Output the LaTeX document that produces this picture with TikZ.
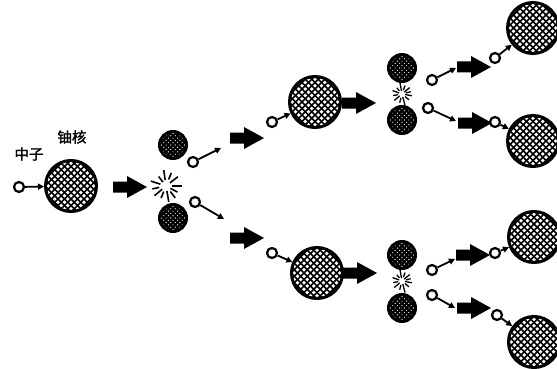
\documentclass[tikz,border=0pt]{standalone}
\usepackage{fontspec}
\newfontfamily\cjk{Noto Sans CJK SC}[FakeBold=1.5]
\usetikzlibrary{arrows.meta}
\begin{document}
\begin{tikzpicture}[x=1pt,y=-1pt,
  % cross-hatched nucleus: #1 = grid pitch, #2 = bar width
  hatched/.style 2 args={circle, draw, fill=white, inner sep=0pt,
    path picture={
      \foreach \k in {-12,...,12}{
        \draw[line width=#2, shift={(path picture bounding box.center)}]
          (\k*#1-40,-40) -- ++(80,80)
          (\k*#1+40,-40) -- ++(-80,80);
      }}},
  nucleus/.style={hatched={6.5}{1.55pt}, minimum size=51pt, line width=3pt},
  fragment/.style={hatched={4.6}{2.1pt}, minimum size=27pt, line width=3pt},
  neutron/.style={circle, draw, fill=white, line width=2.2pt, minimum size=10pt, inner sep=0pt},
  stem/.style={line width=1.8pt, -{Triangle[length=6pt,width=6pt]}},
  label/.style={font=\cjk\fontsize{14.5}{14.5}\selectfont, inner sep=0pt},
  bigarrow/.pic={
    \fill (-17,-5.5) -- (-3,-5.5) -- (-3,-11) -- (17,0) -- (-3,11) -- (-3,5.5) -- (-17,5.5) -- cycle;
  },
  burst/.pic={
    \foreach \a/\r/\R in {0/6/16, 28/5/13, 52/7/15, 80/5/16, 112/6/13, 140/5/15,
                          168/7/14, 198/6/16, 232/5/12, 262/6/16, 292/7/14, 322/5/15}
      \draw[line width=1.6pt] (\a:\r) -- (\a:\R);
  },
  smallburst/.pic={
    \foreach \a/\r/\R in {10/3/10, 40/4/9, 75/3/12, 105/4/9, 140/3/10, 170/4/9,
                          200/3/10, 230/4/8, 260/3/12, 290/4/9, 320/3/10, 345/4/9}
      \draw[line width=1.3pt] (\a:\r) -- (\a:\R);
  }]
\useasboundingbox[fill=white] (0,0) rectangle (557,369);

% first fission: neutron hits a uranium nucleus
\node[nucleus] (u0) at (71,186) {};
\node[neutron] (n0) at (19,187) {};
\draw[stem] (n0) -- (u0);
\node[label] (lblN) at (29,154) {中子};
\node[label] (lblU) at (72,137) {铀核};

\pic at (130,187) {bigarrow};
\pic at (166,186) {burst};
\node[fragment] (f1) at (173,145) {};
\node[fragment] (f2) at (173,218) {};
\node[neutron] (e1) at (193,162) {};
\coordinate (t1) at (221,148);
\draw[stem] (e1) -- (t1);
\node[neutron] (e2) at (195,202) {};
\coordinate (t2) at (224,219);
\draw[stem] (e2) -- (t2);

\pic at (247,138) {bigarrow};
\pic at (247,238) {bigarrow};

% upper branch
\node[nucleus] (u1) at (315,102) {};
\node[neutron] (n1) at (272,122) {};
\draw[stem] (n1) -- (u1);
\pic at (359,103) {bigarrow};
\node[fragment] (f3) at (402,68) {};
\node[fragment] (f4) at (402,120) {};
\pic at (402,94) {smallburst};
\node[neutron] (e3) at (432,80) {};
\coordinate (t3) at (456,68);
\draw[stem] (e3) -- (t3);
\node[neutron] (e4) at (428,108) {};
\coordinate (t4) at (456,121);
\draw[stem] (e4) -- (t4);
\pic at (474,67) {bigarrow};
\pic at (475,123) {bigarrow};
\node[nucleus] (u3) at (533,28) {};
\node[neutron] (n3) at (495,58) {};
\draw[stem] (n3) -- (u3);
\node[nucleus] (u4) at (533,141) {};
\node[neutron] (n4) at (495,122) {};
\draw[stem] (n4) -- (u4);

% lower branch
\node[nucleus] (u2) at (317,273) {};
\node[neutron] (n2) at (272,253) {};
\draw[stem] (n2) -- (u2);
\pic at (360,273) {bigarrow};
\node[fragment] (f5) at (402,255) {};
\node[fragment] (f6) at (402,308) {};
\pic at (402,281) {smallburst};
\node[neutron] (e5) at (432,270) {};
\coordinate (t5) at (455,259);
\draw[stem] (e5) -- (t5);
\node[neutron] (e6) at (432,295) {};
\coordinate (t6) at (455,308);
\draw[stem] (e6) -- (t6);
\pic at (473,255) {bigarrow};
\pic at (474,308) {bigarrow};
\node[nucleus] (u5) at (534,237) {};
\node[neutron] (n5) at (495,253) {};
\draw[stem] (n5) -- (u5);
\node[nucleus] (u6) at (534,342) {};
\node[neutron] (n6) at (497,315) {};
\draw[stem] (n6) -- (u6);
\end{tikzpicture}
\end{document}
